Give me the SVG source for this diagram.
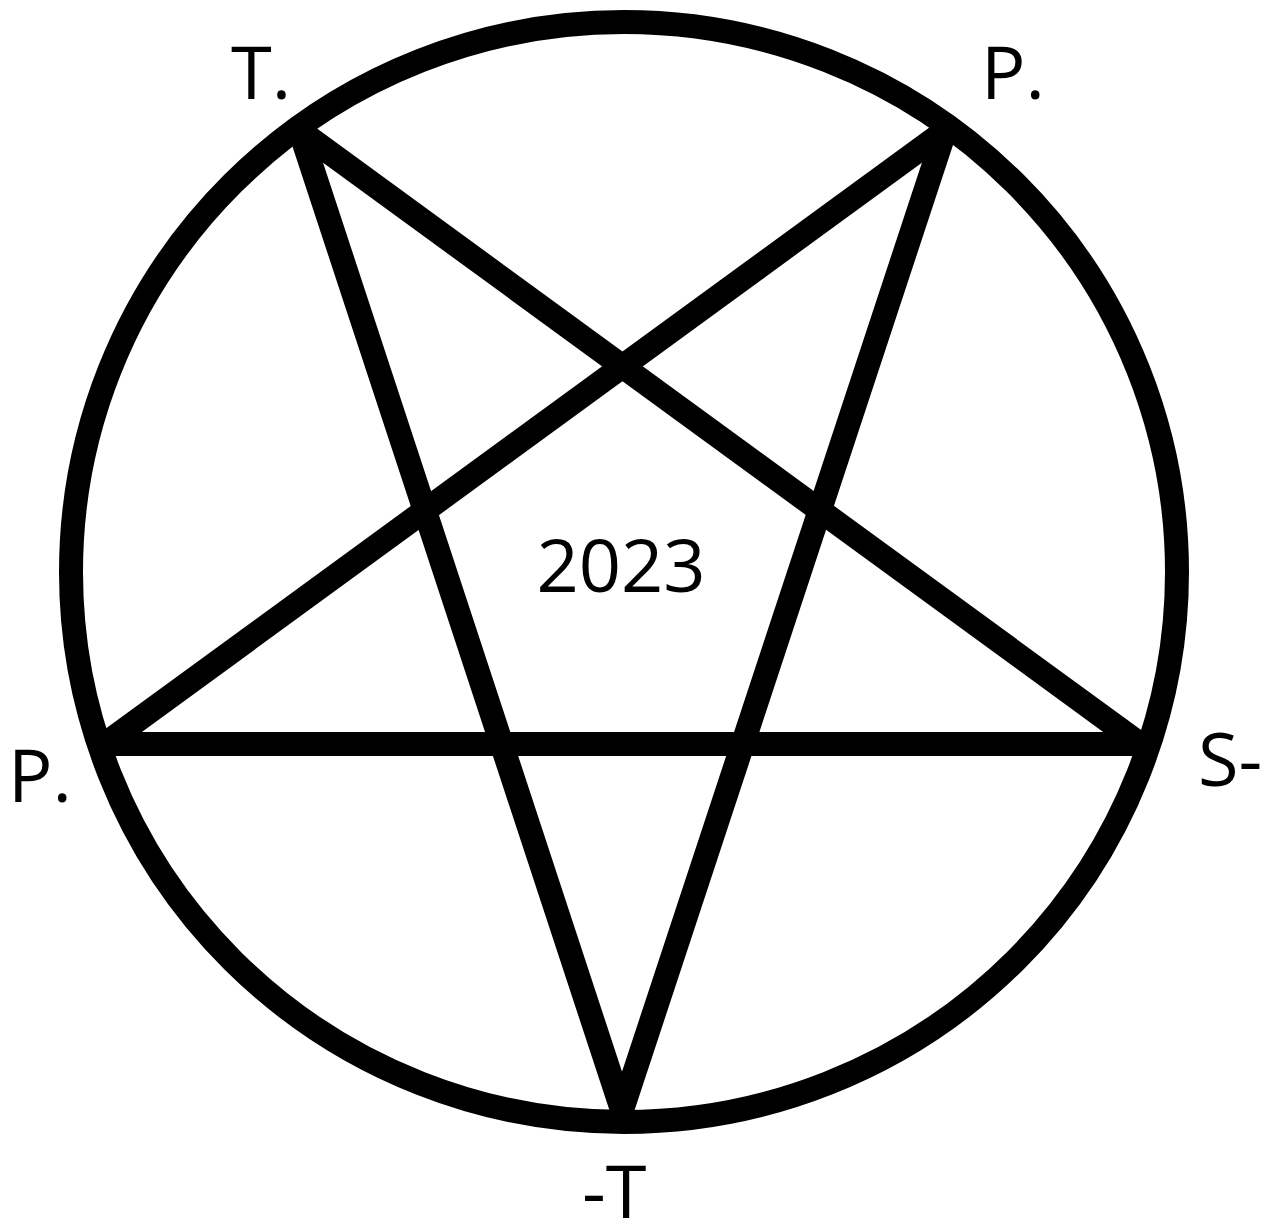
<svg xmlns="http://www.w3.org/2000/svg" width="1270" height="1225" viewBox="0 0 1270 1225">
<style>
.lbl{font-family:"Open Sans","Liberation Sans",sans-serif;font-size:74px;fill:#000}
.ln{stroke:#000;stroke-width:24;fill:none;stroke-linecap:round;stroke-linejoin:round}
</style>
<rect width="1270" height="1225" fill="#fff"/>
<g id="circle"><ellipse cx="624" cy="572" rx="553" ry="550" fill="none" stroke="#000" stroke-width="24"/></g>
<g id="connectors">
<line class="ln" x1="300" y1="131" x2="1140" y2="744"/>
<line class="ln" x1="300" y1="131" x2="622" y2="1110"/>
<line class="ln" x1="945" y1="131" x2="105" y2="744"/>
<line class="ln" x1="945" y1="131" x2="622" y2="1110"/>
<line class="ln" x1="105" y1="744" x2="1140" y2="744"/>
</g>
<g id="node-T"><text class="lbl" x="231" y="99">T.</text></g>
<g id="node-P-top"><text class="lbl" x="981" y="99">P.</text></g>
<g id="node-P-left"><text class="lbl" x="8" y="802">P.</text></g>
<g id="node-S"><text class="lbl" x="1198" y="786">S-</text></g>
<g id="node-minusT"><text class="lbl" x="582" y="1218">-T</text></g>
<g id="node-center"><text class="lbl" x="621" y="592" text-anchor="middle">2023</text></g>
</svg>
